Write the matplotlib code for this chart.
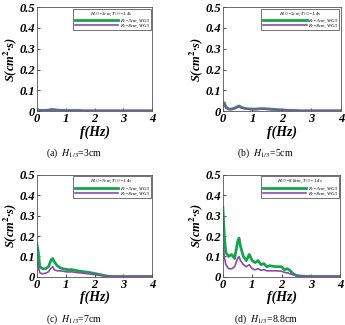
import numpy as np
import matplotlib.pyplot as plt

plt.rcParams["mathtext.fontset"] = "stix"

# frequency grid (Hz)
freq = [0.0, 0.05, 0.1, 0.2, 0.3, 0.4, 0.5, 0.55, 0.6, 0.7, 0.8, 0.9, 1.0, 1.1, 1.2,
        1.3, 1.4, 1.5, 1.6, 1.8, 2.0, 2.1, 2.2, 2.3, 2.4, 2.5, 2.6, 2.8, 3.0, 3.5, 4.0]

# (a) H1/3=3cm
a_rc3 = [0.008, 0.006, 0.004, 0.004, 0.004, 0.005, 0.008, 0.008, 0.007, 0.005, 0.004, 0.004, 0.003, 0.003, 0.003,
         0.003, 0.003, 0.003, 0.002, 0.002, 0.002, 0.002, 0.002, 0.002, 0.002, 0.002, 0.002, 0.002, 0.002, 0.002, 0.002]
a_rc8 = [0.006, 0.005, 0.003, 0.003, 0.003, 0.004, 0.006, 0.006, 0.005, 0.004, 0.003, 0.003, 0.002, 0.002, 0.002,
         0.002, 0.002, 0.002, 0.002, 0.002, 0.002, 0.002, 0.002, 0.002, 0.002, 0.002, 0.002, 0.002, 0.002, 0.002, 0.002]
# (b) H1/3=5cm
b_rc3 = [0.03, 0.04, 0.02, 0.01, 0.01, 0.015, 0.022, 0.025, 0.02, 0.015, 0.012, 0.011, 0.01, 0.01, 0.011,
         0.012, 0.012, 0.011, 0.01, 0.008, 0.006, 0.005, 0.004, 0.004, 0.003, 0.003, 0.002, 0.002, 0.002, 0.002, 0.002]
b_rc8 = [0.025, 0.032, 0.016, 0.008, 0.008, 0.012, 0.018, 0.02, 0.017, 0.013, 0.01, 0.009, 0.008, 0.008, 0.009,
         0.01, 0.01, 0.009, 0.008, 0.006, 0.005, 0.004, 0.003, 0.003, 0.002, 0.002, 0.002, 0.002, 0.002, 0.002, 0.002]
# (c) H1/3=7cm
c_rc3 = [0.16, 0.12, 0.05, 0.04, 0.04, 0.05, 0.085, 0.09, 0.075, 0.055, 0.045, 0.04, 0.037, 0.035, 0.036,
         0.033, 0.03, 0.028, 0.026, 0.022, 0.017, 0.014, 0.011, 0.008, 0.005, 0.003, 0.002, 0.002, 0.002, 0.002, 0.002]
c_rc8 = [0.08, 0.05, 0.02, 0.015, 0.018, 0.025, 0.045, 0.05, 0.035, 0.03, 0.03, 0.028, 0.025, 0.024, 0.025,
         0.023, 0.021, 0.02, 0.018, 0.015, 0.011, 0.009, 0.007, 0.005, 0.003, 0.002, 0.002, 0.002, 0.002, 0.002, 0.002]
# (d) H1/3=8.8cm
d_rc3 = [0.34, 0.2, 0.12, 0.1, 0.11, 0.09, 0.17, 0.19, 0.15, 0.1, 0.08, 0.11, 0.08, 0.07, 0.08,
         0.06, 0.065, 0.05, 0.055, 0.05, 0.05, 0.035, 0.04, 0.03, 0.015, 0.008, 0.005, 0.003, 0.002, 0.002, 0.002]
d_rc8 = [0.16, 0.1, 0.06, 0.04, 0.04, 0.05, 0.09, 0.1, 0.08, 0.06, 0.05, 0.06, 0.04, 0.035, 0.04,
         0.033, 0.035, 0.03, 0.03, 0.03, 0.028, 0.022, 0.02, 0.015, 0.01, 0.005, 0.003, 0.002, 0.002, 0.002, 0.002]

panels = [
    ("a", "3cm", a_rc3, a_rc8),
    ("b", "5cm", b_rc3, b_rc8),
    ("c", "7cm", c_rc3, c_rc8),
    ("d", "8.8cm", d_rc3, d_rc8),
]

positions = [
    [0.107, 0.658, 0.334, 0.320],
    [0.646, 0.658, 0.342, 0.320],
    [0.107, 0.148, 0.334, 0.314],
    [0.646, 0.148, 0.340, 0.314],
]
caption_xy = [(0.215, 0.529), (0.77, 0.529), (0.215, 0.018), (0.77, 0.018)]

green = "#16a34f"
purple = "#8b4aa8"
serif = "Liberation Serif"

fig = plt.figure(figsize=(3.45, 3.25), dpi=100)

for (tag, h, rc3, rc8), pos, cxy in zip(panels, positions, caption_xy):
    ax = fig.add_axes(pos)
    ax.plot(freq, rc3, color=green, lw=2.0, label="Rc=3cm, WG3")
    ax.plot(freq, rc8, color=purple, lw=1.2, label="Rc=8cm, WG3")
    ax.set_xlim(0, 4)
    ax.set_ylim(0, 0.5)
    ax.set_xticks([0, 1, 2, 3, 4])
    ax.set_yticks([0, 0.1, 0.2, 0.3, 0.4, 0.5])
    ax.set_yticklabels(["0", "0.1", "0.2", "0.3", "0.4", "0.5"])
    ax.tick_params(direction="in", length=2, width=0.5, pad=1.5)
    for lab in ax.get_xticklabels() + ax.get_yticklabels():
        lab.set_fontfamily(serif)
        lab.set_fontweight("bold")
        lab.set_fontstyle("italic")
        lab.set_fontsize(9)
    for sp in ax.spines.values():
        sp.set_linewidth(0.6)
        sp.set_color("#555555")
    ax.set_xlabel("f(Hz)", fontfamily=serif, fontweight="bold", fontstyle="italic",
                  fontsize=10, labelpad=0)
    ax.set_ylabel("S(cm$^\\mathbf{2}$·s)", fontfamily=serif, fontweight="bold", fontstyle="italic",
                  fontsize=9, labelpad=0)
    leg = ax.legend(loc="upper right", title="$H_{1/3}$=" + h + ", $T_{1/3}$=1.4s",
                    title_fontsize=3.5, handlelength=9, handletextpad=0.3, borderpad=0.4,
                    labelspacing=0.15, fancybox=False, edgecolor="#333333",
                    borderaxespad=0.3, prop={"family": serif, "style": "italic", "size": 3.5})
    leg.get_frame().set_linewidth(0.6)
    leg.get_title().set_fontfamily(serif)
    leg.get_title().set_fontstyle("italic")
    fig.text(cxy[0], cxy[1], "(" + tag + ")  $H_{1/3}$=" + h,
             ha="center", va="center", fontsize=7, fontfamily=serif)

fig.savefig("out.png", dpi=100)
